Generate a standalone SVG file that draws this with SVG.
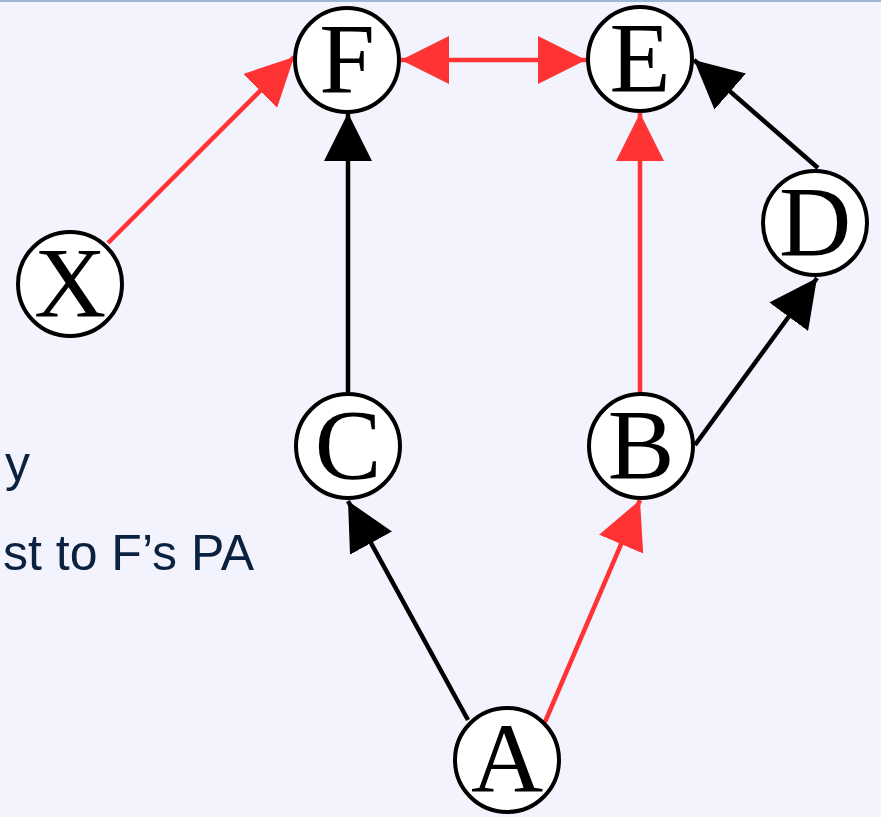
<svg xmlns="http://www.w3.org/2000/svg" width="881" height="817" viewBox="0 0 881 817">
  <style>
    .node circle { fill: #ffffff; stroke: #000000; stroke-width: 4; }
    .node text { font-family: "Liberation Serif", "Times New Roman", serif; font-size: 100px; fill: #000000; text-anchor: middle; }
    .edge { fill: none; stroke-width: 4.5; }
    .black { stroke: #000000; marker-end: url(#headBlack); }
    .red { stroke: #ff3333; marker-end: url(#headRed); }
    .both { stroke: #ff3333; marker-start: url(#headRed); marker-end: url(#headRed); }
    .caption { font-family: "Liberation Sans", Arial, sans-serif; font-size: 50px; fill: #0b2140; }
  </style>
  <defs>
    <marker id="headBlack" viewBox="0 0 48 48" refX="48" refY="24" markerWidth="48" markerHeight="48" markerUnits="userSpaceOnUse" orient="auto-start-reverse">
      <path d="M0,0 L48,24 L0,48 z" fill="#000000"/>
    </marker>
    <marker id="headRed" viewBox="0 0 48 48" refX="48" refY="24" markerWidth="48" markerHeight="48" markerUnits="userSpaceOnUse" orient="auto-start-reverse">
      <path d="M0,0 L48,24 L0,48 z" fill="#ff3333"/>
    </marker>
  </defs>

  <!-- background and top rule -->
  <rect x="0" y="0" width="881" height="817" fill="#f3f3fd"/>
  <rect x="0" y="0" width="881" height="2" fill="#9ab8d8"/>

  <!-- caption text along the left edge -->
  <text class="caption" x="30" y="481" text-anchor="end">y</text>
  <text class="caption" x="254" y="570" text-anchor="end">st to F’s PA</text>

  <g id="connectors">
    <path class="edge red" d="M108,243 L294,57"/>
    <path class="edge both" d="M401,60 L586,60"/>
    <path class="edge black" d="M348,392 L348,113"/>
    <path class="edge black" d="M468,720 L348,501"/>
    <path class="edge red" d="M545,722 L640,500"/>
    <path class="edge red" d="M640,393 L640,113"/>
    <path class="edge black" d="M695,445 L817,278"/>
    <path class="edge black" d="M818,168 L694,60"/>
  </g>

  <g id="node-F" class="node"><circle cx="347" cy="60" r="52"/><text x="347" y="92">F</text></g>
  <g id="node-E" class="node"><circle cx="640" cy="59" r="52"/><text x="640" y="91">E</text></g>
  <g id="node-X" class="node"><circle cx="70" cy="284" r="52"/><text x="70" y="316">X</text></g>
  <g id="node-D" class="node"><circle cx="815" cy="223" r="52"/><text x="815" y="255">D</text></g>
  <g id="node-C" class="node"><circle cx="348" cy="446" r="52"/><text x="348" y="478">C</text></g>
  <g id="node-B" class="node"><circle cx="641" cy="446" r="52"/><text x="641" y="478">B</text></g>
  <g id="node-A" class="node"><circle cx="507" cy="760" r="52"/><text x="507" y="792">A</text></g>
</svg>
